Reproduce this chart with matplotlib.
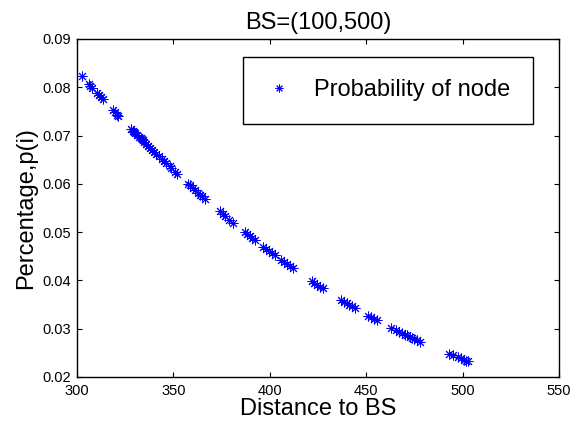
import numpy as np
import matplotlib
matplotlib.use("Agg")
import matplotlib.pyplot as plt

# distance to the base station and probability of each node
distance = [302.5,
            306, 307, 308,
            310.5, 311.5, 312.5, 313.5,
            318.5, 319.5, 321, 321.5,
            328, 329, 329.5, 330, 331, 332, 333, 333.5, 334, 335, 336, 337,
            338, 339, 340, 341, 342.5, 344, 345, 346, 348, 349, 351, 352,
            357.5, 358.5, 360, 361, 362.5, 364, 365, 366.5,
            374, 375.5, 377, 379, 381,
            387, 388, 389.5, 391, 392.5,
            396.5, 398, 399.5, 401, 402.5,
            406, 407.5, 409, 410.5, 412,
            422, 423, 424.5, 426, 427.5,
            437, 438.5, 440, 441, 442.5, 444,
            451, 452.5, 454, 455.5,
            463, 465.5, 467, 468.5, 470, 471, 472.5, 474, 475, 476.5, 478,
            493, 495, 497.5, 499, 500.5, 502, 503]
prob = [0.0823,
        0.0807, 0.0803, 0.0799,
        0.0788, 0.0783, 0.0779, 0.0775,
        0.0753, 0.0749, 0.0743, 0.0741,
        0.0714, 0.0710, 0.0708, 0.0706, 0.0702, 0.0698, 0.0694, 0.0692, 0.0690, 0.0686, 0.0682, 0.0678,
        0.0674, 0.0670, 0.0666, 0.0662, 0.0657, 0.0651, 0.0647, 0.0643, 0.0636, 0.0632, 0.0624, 0.0621,
        0.0600, 0.0597, 0.0591, 0.0588, 0.0582, 0.0577, 0.0574, 0.0568,
        0.0543, 0.0538, 0.0533, 0.0526, 0.0519,
        0.0500, 0.0497, 0.0492, 0.0487, 0.0483,
        0.0470, 0.0466, 0.0461, 0.0457, 0.0452,
        0.0442, 0.0438, 0.0434, 0.0429, 0.0425,
        0.0398, 0.0395, 0.0391, 0.0387, 0.0384,
        0.0360, 0.0356, 0.0353, 0.0350, 0.0347, 0.0343,
        0.0327, 0.0324, 0.0321, 0.0318,
        0.0302, 0.0297, 0.0294, 0.0291, 0.0288, 0.0286, 0.0283, 0.0280, 0.0279, 0.0276, 0.0273,
        0.0248, 0.0245, 0.0241, 0.0239, 0.0236, 0.0234, 0.0233]

xticks = [300, 350, 400, 450, 500, 550]
yticks = [0.02, 0.03, 0.04, 0.05, 0.06, 0.07, 0.08, 0.09]

plt.rcParams['font.family'] = ['Liberation Sans', 'DejaVu Sans']

fig = plt.figure(figsize=(5.74, 4.23), dpi=100)
ax = fig.add_axes([77/574, 1-377/423, 482/574, 338/423])

# matlab style asterisk: + and x on top of each other
ax.plot(distance, prob, linestyle='none', marker=(8, 2, 0), color='#0000ff',
        ms=7, mew=0.7, label='Probability of node')

ax.set_xlim(300, 550)
ax.set_ylim(0.02, 0.09)
ax.set_xticks(xticks)
ax.set_yticks(yticks)
ax.set_xticklabels([str(v) for v in xticks])
ax.set_yticklabels(['%.2f' % v for v in yticks])
ax.tick_params(direction='in', top=True, right=True, length=3.5, width=0.8,
               labelsize=10.5, colors='black')
ax.tick_params(axis='x', pad=5)
ax.tick_params(axis='y', pad=4)
for s in ax.spines.values():
    s.set_linewidth(1.0)
    s.set_color('black')

ax.set_title('BS=(100,500)', fontsize=17, pad=7)
ax.set_xlabel('Distance to BS', fontsize=17, labelpad=0)
ax.set_ylabel('Percentage,p(i)', fontsize=17, labelpad=4)

leg = ax.legend(loc='upper right', bbox_to_anchor=(0.946, 0.947),
                borderaxespad=0, fontsize=17, fancybox=False,
                edgecolor='black', framealpha=1, borderpad=0.95,
                handlelength=1.1, handletextpad=0.95, markerscale=0.8)
leg.get_frame().set_linewidth(1.0)

fig.savefig('out.png', dpi=100)
